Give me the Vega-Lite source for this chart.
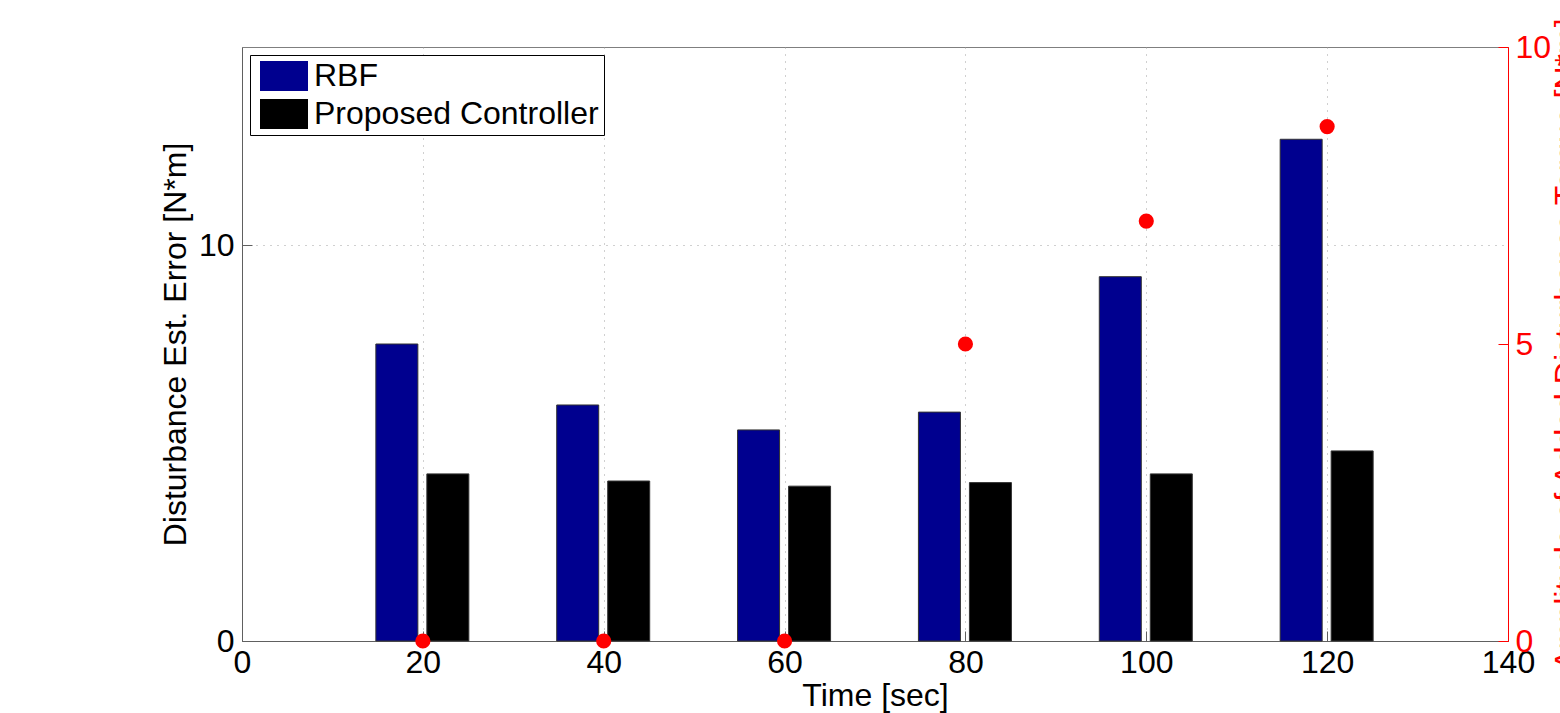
{
  "$schema": "https://vega.github.io/schema/vega-lite/v6.json",
  "width": 1266,
  "height": 594,
  "autosize": {"type": "none"},
  "padding": {"left": 242, "top": 47, "right": 52, "bottom": 72},
  "background": "white",
  "config": {
    "font": "Liberation Sans",
    "view": {"stroke": "#7f7f7f", "strokeWidth": 1},
    "axis": {
      "labelFont": "Liberation Sans",
      "labelFontSize": 32,
      "titleFont": "Liberation Sans",
      "titleFontSize": 32,
      "titleFontWeight": "normal",
      "labelColor": "black",
      "titleColor": "black",
      "labelFlush": false,
      "domainColor": "#606060",
      "tickColor": "#606060",
      "gridColor": "#a0a0a0",
      "gridDash": [1, 6],
      "gridWidth": 1
    }
  },
  "datasets": {
    "bars": [
      {"time": 20, "series": "RBF", "error": 7.5},
      {"time": 20, "series": "Proposed Controller", "error": 4.22},
      {"time": 40, "series": "RBF", "error": 5.96},
      {"time": 40, "series": "Proposed Controller", "error": 4.04},
      {"time": 60, "series": "RBF", "error": 5.33},
      {"time": 60, "series": "Proposed Controller", "error": 3.91},
      {"time": 80, "series": "RBF", "error": 5.78},
      {"time": 80, "series": "Proposed Controller", "error": 4.0},
      {"time": 100, "series": "RBF", "error": 9.2},
      {"time": 100, "series": "Proposed Controller", "error": 4.22},
      {"time": 120, "series": "RBF", "error": 12.67},
      {"time": 120, "series": "Proposed Controller", "error": 4.8}
    ],
    "dist": [
      {"time": 20, "d": 0},
      {"time": 40, "d": 0},
      {"time": 60, "d": 0},
      {"time": 80, "d": 5},
      {"time": 100, "d": 7.07},
      {"time": 120, "d": 8.66}
    ]
  },
  "layer": [
    {
      "data": {"name": "bars"},
      "encoding": {
        "x": {
          "field": "time",
          "type": "quantitative",
          "scale": {"domain": [0, 140], "nice": false, "padding": 0},
          "axis": {
            "values": [0, 20, 40, 60, 80, 100, 120, 140],
            "title": "Time [sec]",
            "grid": true,
            "labelFlush": false,
            "tickSize": -10,
            "labelPadding": 16,
            "titlePadding": 2
          }
        },
        "y": {
          "field": "error",
          "type": "quantitative",
          "scale": {"domain": [0, 15], "nice": false},
          "axis": {
            "values": [0, 10],
            "title": "Disturbance Est. Error [N*m]",
            "grid": true,
            "labelFlush": false,
            "tickSize": -10,
            "labelPadding": 18,
            "titlePadding": 6
          }
        },
        "color": {
          "field": "series",
          "type": "nominal",
          "scale": {"domain": ["RBF", "Proposed Controller"], "range": ["#00008f", "#000000"]},
          "legend": {
            "title": null,
            "orient": "top-left",
            "offset": 8,
            "padding": 5,
            "fillColor": "white",
            "strokeColor": "black",
            "symbolType": "M-1.6,-1H1.6V1H-1.6Z",
            "symbolSize": 900,
            "symbolOffset": 13,
            "symbolStrokeWidth": 0,
            "labelOffset": 14,
            "labelFont": "Liberation Sans",
            "labelFontSize": 32,
            "labelColor": "black",
            "labelLimit": 400,
            "rowPadding": 6
          }
        }
      },
      "layer": [
        {
          "transform": [{"filter": "datum.series === 'RBF'"}],
          "mark": {"type": "bar", "width": 42, "xOffset": -26, "stroke": "#333333", "strokeWidth": 1}
        },
        {
          "transform": [{"filter": "datum.series === 'Proposed Controller'"}],
          "mark": {"type": "bar", "width": 42, "xOffset": 25, "stroke": "#333333", "strokeWidth": 1}
        }
      ]
    },
    {
      "data": {"name": "dist"},
      "mark": {"type": "circle", "size": 230, "color": "red", "opacity": 1},
      "encoding": {
        "x": {"field": "time", "type": "quantitative"},
        "y": {
          "field": "d",
          "type": "quantitative",
          "scale": {"domain": [0, 10], "nice": false},
          "axis": {
            "orient": "right",
            "values": [0, 5, 10],
            "title": "Amplitude of Added Disturbance Torque [N*m]",
            "titleAngle": 270,
            "titleColor": "red",
            "labelColor": "red",
            "labelFlush": false,
            "domainColor": "red",
            "tickColor": "red",
            "tickSize": -10,
            "labelPadding": 17,
            "titlePadding": 33,
            "grid": false
          }
        }
      }
    }
  ],
  "resolve": {"scale": {"y": "independent"}}
}
